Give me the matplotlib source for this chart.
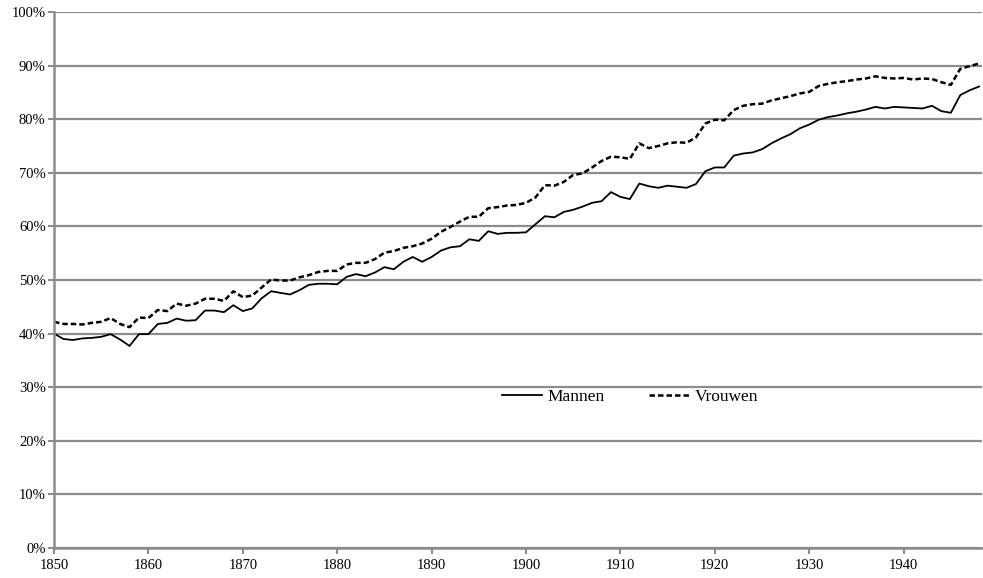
import numpy as np
import matplotlib.pyplot as plt
from matplotlib.ticker import FuncFormatter

# jaren 1850-1948
jaren = list(range(1850, 1949))

# aandeel mannen (%)
mannen = [
    40.0, 39.0, 38.8, 39.1, 39.2, 39.4, 39.9, 38.9, 37.7, 39.9,
    39.9, 41.8, 42.0, 42.8, 42.4, 42.5, 44.3, 44.3, 44.0, 45.3,
    44.2, 44.7, 46.6, 47.9, 47.6, 47.3, 48.1, 49.1, 49.3, 49.3,
    49.2, 50.6, 51.1, 50.7, 51.4, 52.4, 52.0, 53.4, 54.3, 53.4,
    54.3, 55.5, 56.1, 56.3, 57.6, 57.3, 59.1, 58.6, 58.8, 58.8,
    58.9, 60.4, 61.9, 61.7, 62.7, 63.1, 63.7, 64.4, 64.7, 66.4,
    65.5, 65.1, 68.0, 67.5, 67.2, 67.6, 67.4, 67.2, 67.9, 70.3,
    71.0, 71.0, 73.2, 73.6, 73.8, 74.4, 75.5, 76.4, 77.2, 78.3,
    79.0, 79.9, 80.4, 80.7, 81.1, 81.4, 81.8, 82.3, 82.0, 82.3,
    82.2, 82.1, 82.0, 82.5, 81.5, 81.2, 84.5, 85.4, 86.1,
]

# aandeel vrouwen (%)
vrouwen = [
    42.2, 41.8, 41.8, 41.7, 42.0, 42.2, 42.9, 41.8, 41.2, 43.0,
    42.9, 44.4, 44.2, 45.6, 45.2, 45.6, 46.5, 46.5, 46.1, 47.9,
    46.8, 47.1, 48.6, 50.1, 49.9, 49.9, 50.5, 50.9, 51.5, 51.7,
    51.7, 52.9, 53.2, 53.2, 53.9, 55.1, 55.4, 56.0, 56.3, 56.8,
    57.7, 59.0, 59.9, 60.9, 61.8, 61.8, 63.4, 63.6, 63.9, 64.0,
    64.4, 65.4, 67.7, 67.6, 68.3, 69.6, 69.9, 71.0, 72.2, 73.0,
    72.9, 72.6, 75.5, 74.6, 75.0, 75.5, 75.7, 75.6, 76.6, 79.2,
    79.9, 79.8, 81.7, 82.5, 82.8, 82.9, 83.5, 83.9, 84.3, 84.8,
    85.1, 86.2, 86.6, 86.9, 87.1, 87.4, 87.6, 88.0, 87.7, 87.6,
    87.7, 87.4, 87.6, 87.5, 86.9, 86.4, 89.4, 89.9, 90.4,
]

plt.rcParams['font.family'] = ['Liberation Serif', 'DejaVu Serif']

fig = plt.figure(figsize=(9.83, 5.78), dpi=100)
ax = fig.add_axes([54 / 983, 30 / 578, 928 / 983, 536 / 578])

grijs = '#8c8c8c'

ax.plot(jaren, mannen, color='black', linewidth=1.3, label='Mannen')
ax.plot(jaren, vrouwen, color='black', linewidth=1.8, linestyle=(0, (2.2, 1.2)), label='Vrouwen')

ax.set_xlim(1850, 1948.3)
ax.set_ylim(0, 100)
ax.set_xticks(range(1850, 1941, 10))
ax.set_yticks(range(0, 101, 10))
ax.yaxis.set_major_formatter(FuncFormatter(lambda v, p: f"{int(v)}%"))

ax.grid(axis='y', color=grijs, linewidth=1.6)
ax.set_axisbelow(True)
for s in ['top', 'right']:
    ax.spines[s].set_visible(False)
for s in ['left', 'bottom']:
    ax.spines[s].set_color(grijs)
    ax.spines[s].set_linewidth(1.8)

ax.tick_params(axis='both', color=grijs, width=1.5, length=4, labelsize=10.5, pad=2)
ax.tick_params(axis='x', pad=4)

ax.legend(loc='center', bbox_to_anchor=(630 / 983, 1 - 397 / 578), bbox_transform=fig.transFigure,
          ncol=2, frameon=False, fontsize=12.5, handlelength=2.3, columnspacing=2.6, handletextpad=0.3)

fig.savefig('out.png', dpi=100)
